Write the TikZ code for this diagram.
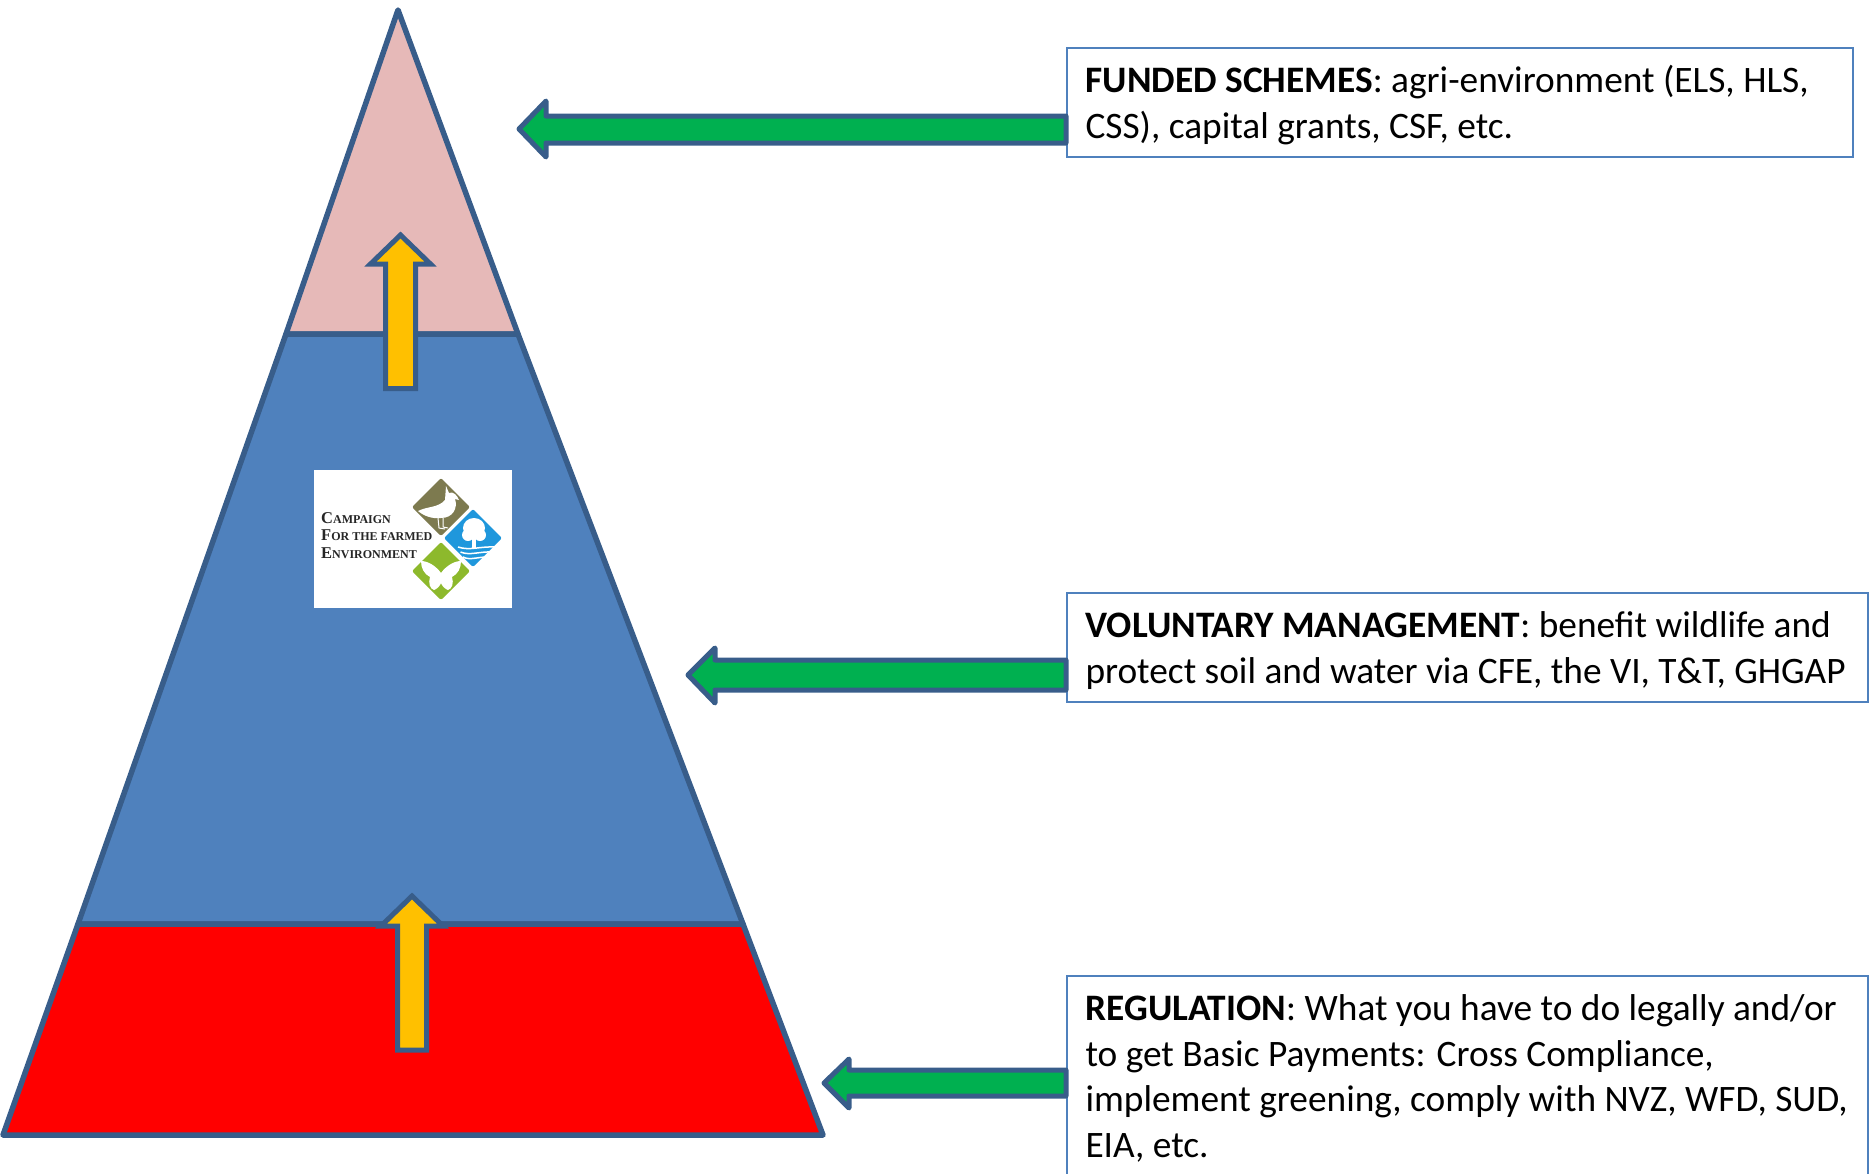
\documentclass[tikz,border=0pt]{standalone}
\usepackage{fontspec}
\setmainfont{Carlito}
\newfontfamily\logofont{Liberation Serif}
\definecolor{edgeblue}{HTML}{385D8A}
\definecolor{layerblue}{HTML}{4F81BD}
\definecolor{layerpink}{HTML}{E6B9B8}
\definecolor{arrowgreen}{HTML}{00B050}
\definecolor{arrowyellow}{HTML}{FFC000}
\definecolor{logoolive}{HTML}{7D7A4F}
\definecolor{logosky}{HTML}{1F97DC}
\definecolor{logoleaf}{HTML}{8DB92C}
\newcommand{\capsword}[2]{{\fontsize{16.5}{17}\selectfont #1}{\fontsize{12}{12.5}\selectfont #2}}
\begin{document}
\begin{tikzpicture}
[x=1pt,y=-1pt,
  layerdecorate/.style={draw=edgeblue,line width=5.5pt,line join=round},%
  greenarrow/.style={draw=edgeblue,fill=arrowgreen,line width=5pt,line join=round},%
  yellowarrow/.style={draw=edgeblue,fill=arrowyellow,line width=5pt,line join=miter},%
  textbox/.style={draw=layerblue,line width=2pt,fill=white,anchor=north west,align=flush left,
    inner xsep=18.5pt,inner ysep=12.5pt,font=\fontsize{37.35}{45.5}\selectfont,
    execute at begin node={\rule{0pt}{32pt}}},%
  logotext/.style={anchor=base west,inner sep=0pt,font=\logofont\bfseries,text=black!85},%
  logodiamond/.style={rounded corners=2pt}]
\useasboundingbox (0,0) rectangle (1876,1173);
%% pyramid layers
\draw[layerdecorate,fill=layerpink] (398,10) -- (518,334) -- (286,334) -- cycle;
\draw[layerdecorate,fill=layerblue] (286,334) -- (518,334) -- (743,924) -- (78,924) -- cycle;
\draw[layerdecorate,fill=red] (78,924) -- (743,924) -- (823,1135) -- (3,1135) -- cycle;
%% text boxes
\node (funded) at (1066,47) [textbox,text width=749pt]
  {\textbf{FUNDED SCHEMES}: agri-environment (ELS, HLS,\\CSS), capital grants, CSF, etc.};
\node (voluntary) at (1066,592) [textbox,text width=764pt]
  {\textbf{VOLUNTARY MANAGEMENT}: benefit wildlife and\\protect soil and water via CFE, the VI, T\&T, GHGAP};
\node (regulation) at (1066,975) [textbox,text width=764pt]
  {\textbf{REGULATION}: What you have to do legally and/or\\to get Basic Payments: Cross Compliance,\\implement greening, comply with NVZ, WFD, SUD,\\EIA, etc.\rule[-24pt]{0pt}{1pt}};
%% green arrows
\foreach \boxname/\tipx/\headx/\y/\headtop/\shafttop/\shaftbot/\headbot in {
  funded/519/546/129/101/116/143/157,
  voluntary/688/715/675/648/660/690/703,
  regulation/824/849/1083/1059/1070/1096/1108} {
  \draw[greenarrow] (\tipx,\y) -- (\headx,\headtop) -- (\headx,\shafttop)
    -- (\boxname.west |- 0,\shafttop) -- (\boxname.west |- 0,\shaftbot)
    -- (\headx,\shaftbot) -- (\headx,\headbot) -- cycle;
}
%% yellow arrows
\foreach \cx/\tipy/\heady/\headw/\shaftw/\endy in {
  400.5/235/264/30/15/388.5, 412/896/926/31/14.5/1050} {
  \draw[yellowarrow] (\cx,\tipy) -- (\cx+\headw,\heady) -- (\cx+\shaftw,\heady)
    -- (\cx+\shaftw,\endy) -- (\cx-\shaftw,\endy) -- (\cx-\shaftw,\heady)
    -- (\cx-\headw,\heady) -- cycle;
}
%% logo
\fill[white] (314,470) rectangle (512,608);
\foreach \colorname/\x/\y in {logoolive/441/507, logosky/473/538, logoleaf/441/571} {
  \fill[\colorname,logodiamond] (\x,\y-29) -- (\x+29,\y) -- (\x,\y+29) -- (\x-29,\y) -- cycle;
}
\node (logoa) at (321,523) [logotext] {\capsword{C}{AMPAIGN}};
\node (logob) at (321,540) [logotext] {\capsword{F}{OR THE FARMED}};
\node (logoc) at (321,558) [logotext] {\capsword{E}{NVIRONMENT}};
%% bird
\fill[white] (418,511) .. controls (428,506) and (438,508) .. (445,500)
  -- (446,486) -- (449,493) .. controls (453,491) and (457,495) .. (459,500)
  -- (455,499) .. controls (458,508) and (453,518) .. (441,518)
  .. controls (432,519) and (424,516) .. (418,511) -- cycle;
\draw[white,line width=1pt] (438,518) -- (439,528) -- (445,529) (443,518) -- (443,527) -- (448,528);
%% tree
\fill[white] (474,528) circle[x radius=11pt,y radius=10pt] (468,535) circle[radius=6pt]
  (480,535) circle[radius=6pt];
\fill[white] (472,538) rectangle (476,549);
\foreach \wavey in {550,555,560} {
  \draw[white,line width=1.5pt] (\wavey*0.5+183,\wavey-3) .. controls (470,\wavey+1) and (480,\wavey-4) .. (\wavey*-0.5+772,\wavey-3);
}
%% butterfly
\fill[white] (441,573) .. controls (436,566) and (428,561) .. (421,561)
  .. controls (421,568) and (424,574) .. (430,577)
  .. controls (428,583) and (430,589) .. (434,590)
  .. controls (437,589) and (440,586) .. (441,583)
  .. controls (442,586) and (445,589) .. (448,590)
  .. controls (452,589) and (454,583) .. (452,577)
  .. controls (458,574) and (461,568) .. (461,561)
  .. controls (454,561) and (446,566) .. (441,573) -- cycle;
\end{tikzpicture}
\end{document}
